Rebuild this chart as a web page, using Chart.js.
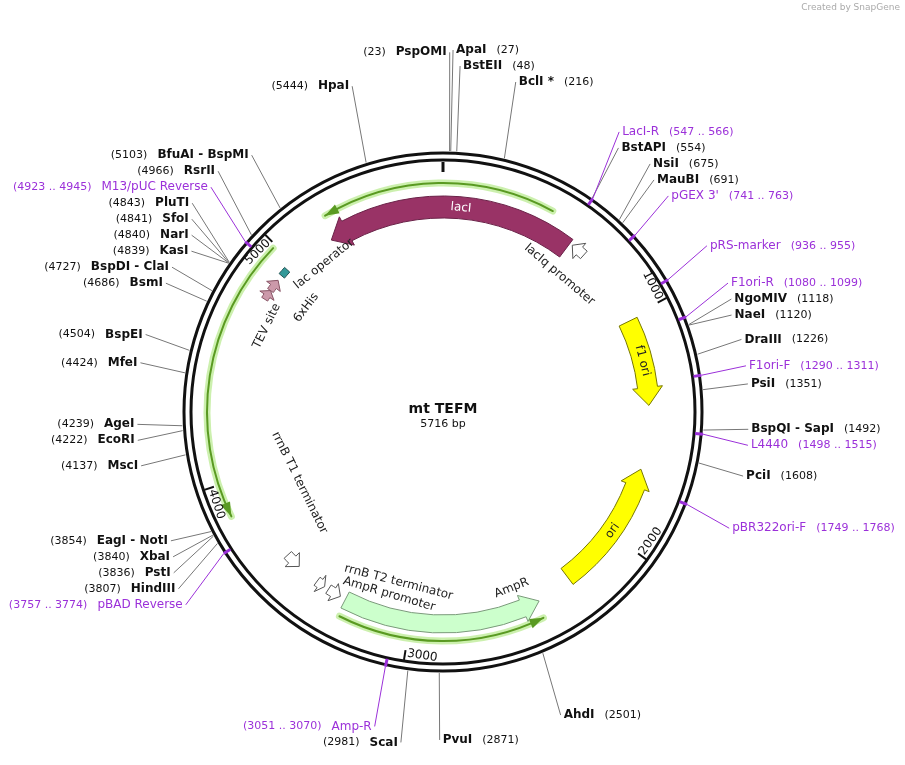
<!DOCTYPE html>
<html><head><meta charset="utf-8">
<script src="https://cdn.jsdelivr.net/npm/chart.js@4.4.0/dist/chart.umd.min.js"></script>
<style>html,body{margin:0;background:#fff}canvas{display:block}</style>
</head><body>
<canvas id="map" width="905" height="765"></canvas>
<script>
const TOTAL = 5716;
const plasmidName = "mt TEFM";

// restriction sites: name, position
const siteNames = ["PspOMI","ApaI","BstEII","BclI *","BstAPI","NsiI","MauBI","NgoMIV","NaeI","DraIII","PsiI","BspQI - SapI","PciI","AhdI","PvuI","ScaI","HindIII","PstI","XbaI","EagI - NotI","MscI","EcoRI","AgeI","MfeI","BspEI","BsmI","BspDI - ClaI","KasI","NarI","SfoI","PluTI","RsrII","BfuAI - BspMI","HpaI"];
const sitePos = [23,27,48,216,554,675,691,1118,1120,1226,1351,1492,1608,2501,2871,2981,3807,3836,3840,3854,4137,4222,4239,4424,4504,4686,4727,4839,4840,4841,4843,4966,5103,5444];

// primers: name, start, end
const primerNames = ["LacI-R","pGEX 3'","pRS-marker","F1ori-R","F1ori-F","L4440","pBR322ori-F","Amp-R","pBAD Reverse","M13/pUC Reverse"];
const primerStart = [547,741,936,1080,1290,1498,1749,3051,3757,4923];
const primerEnd = [566,763,955,1099,1311,1515,1768,3070,3774,4945];

// features: start, end, direction (1 = clockwise, -1 = counter)
const featNames = ["lacI","f1 ori","ori","AmpR","lacIq promoter","AmpR promoter","rrnB T2 terminator","rrnB T1 terminator","lac operator","6xHis","TEV site"];
const featStart = [5192,1016,1685,2430,600,3320,3400,3540,4925,4845,4800];
const featEnd = [587,1400,2270,3295,665,3380,3440,3610,4960,4900,4845];
const featDir = [-1,1,-1,-1,-1,-1,-1,-1,0,1,1];

// translated ORF arrows (thin green lines): start, end
const orfStart = [5224,3870,2445];
const orfEnd = [455,4985,3285];

const tickValues = [1000,2000,3000,4000,5000];

const ang = bp => bp / TOTAL * 2 * Math.PI;

const mapPlugin = {
  id: "plasmid",
  afterDraw(chart) {
    const ctx = chart.ctx, xs = chart.scales.x, ys = chart.scales.y;
    const cx = xs.getPixelForValue(0), cy = ys.getPixelForValue(0);
    const P = (bp, r) => { const t = ang(bp); return [xs.getPixelForValue(r * Math.sin(t)), ys.getPixelForValue(r * Math.cos(t))]; };
    const ca = bp => ang(bp) - Math.PI / 2;
    const span = (s, e) => ((e - s) % TOTAL + TOTAL) % TOTAL;

    function arrow(s, e, dir, r, w, fill, stroke) {
      const len = span(s, e);
      const head = Math.min(len * 0.6, 18 / r / (2 * Math.PI) * TOTAL);
      ctx.beginPath();
      if (dir === 1) {
        const b = s + len - head;
        ctx.arc(cx, cy, r + w / 2, ca(s), ca(b));
        ctx.lineTo(...P(b, r + w / 2 + 5)); ctx.lineTo(...P(e, r)); ctx.lineTo(...P(b, r - w / 2 - 5));
        ctx.arc(cx, cy, r - w / 2, ca(b), ca(s), true);
      } else if (dir === -1) {
        const b = s + head;
        ctx.moveTo(...P(s, r));
        ctx.lineTo(...P(b, r + w / 2 + 5));
        ctx.arc(cx, cy, r + w / 2, ca(b), ca(e));
        ctx.arc(cx, cy, r - w / 2, ca(e), ca(b), true);
        ctx.lineTo(...P(b, r - w / 2 - 5));
      } else {
        ctx.arc(cx, cy, r + w / 2, ca(s), ca(e));
        ctx.arc(cx, cy, r - w / 2, ca(e), ca(s), true);
      }
      ctx.closePath();
      ctx.fillStyle = fill; ctx.fill();
      ctx.strokeStyle = stroke; ctx.lineWidth = 1; ctx.stroke();
    }

    function thinArrow(s, e, r) {
      const len = span(s, e);
      ctx.lineCap = "round";
      ctx.strokeStyle = "rgba(170,230,120,0.6)"; ctx.lineWidth = 7;
      ctx.beginPath(); ctx.arc(cx, cy, r, ca(s), ca(s) + ang(len)); ctx.stroke();
      ctx.strokeStyle = "#5a9a22"; ctx.lineWidth = 2;
      ctx.beginPath(); ctx.arc(cx, cy, r, ca(s), ca(s) + ang(len)); ctx.stroke();
      ctx.lineCap = "butt";
    }

    for (let i = 0; i < orfStart.length; i++) {
      const r = i === 1 ? 236 : 229;
      thinArrow(orfStart[i], orfEnd[i], r);
      const tipBp = orfStart[i], back = tipBp + 14 / 230 / (2 * Math.PI) * TOTAL;
      ctx.fillStyle = "#5a9a22"; ctx.beginPath();
      ctx.moveTo(...P(tipBp, r)); ctx.lineTo(...P(back, r + 5)); ctx.lineTo(...P(back, r - 5)); ctx.closePath(); ctx.fill();
    }

    // backbone
    ctx.strokeStyle = "#111"; ctx.lineWidth = 3;
    ctx.beginPath(); ctx.arc(cx, cy, 259, 0, 2 * Math.PI); ctx.stroke();
    ctx.beginPath(); ctx.arc(cx, cy, 252, 0, 2 * Math.PI); ctx.stroke();
    ctx.beginPath(); ctx.moveTo(...P(0, 250)); ctx.lineTo(...P(0, 240)); ctx.stroke();

    // ticks
    ctx.font = "12px 'DejaVu Sans'"; ctx.fillStyle = "#111";
    tickValues.forEach(v => {
      ctx.lineWidth = 2; ctx.beginPath(); ctx.moveTo(...P(v, 251)); ctx.lineTo(...P(v, 241)); ctx.stroke();
      const [x, y] = P(v - 8, 244); const t = ang(v);
      const bottom = t > Math.PI / 2 && t < 3 * Math.PI / 2;
      ctx.save(); ctx.translate(x, y);
      ctx.rotate(bottom ? t - Math.PI : t);
      ctx.textAlign = bottom ? "left" : "right"; ctx.textBaseline = "middle";
      ctx.fillText(String(v), 0, 0); ctx.restore();
    });

    // features
    const featStyle = {
      "lacI": [205, 22, "#993366", "#6a2248"], "f1 ori": [206, 20, "#ffff00", "#777700"],
      "ori": [206, 20, "#ffff00", "#777700"], "AmpR": [212, 18, "#ccffcc", "#7a9a7a"],
      "lac operator": [211, 7, "#339999", "#225555"], "6xHis": [211, 7, "#cc99aa", "#885566"], "TEV site": [211, 7, "#cc99aa", "#885566"]
    };
    featNames.forEach((n, i) => {
      const st = featStyle[n] || [211, 10, "#ffffff", "#555"];
      arrow(featStart[i], featEnd[i], featDir[i], st[0], st[1], st[2], st[3]);
    });

    const featLabel = [["lacI", 80, 205, "#fff"], ["f1 ori", 1200, 206, "#222"], ["ori", 1985, 207, "#222"],
      ["AmpR", 2520, 189, "#222"], ["lacIq promoter", 640, 180, "#222"], ["AmpR promoter", 3120, 190, "#222"],
      ["rrnB T2 terminator", 3090, 176, "#222"], ["rrnB T1 terminator", 3870, 160, "#222"],
      ["lac operator", 5100, 190, "#222"], ["6xHis", 4880, 172, "#222"], ["TEV site", 4700, 196, "#222"]];
    ctx.font = "12px 'DejaVu Sans'";
    featLabel.forEach(([txt, bp, r, col]) => {
      const [x, y] = P(bp, r); const t = ang(bp);
      let rot = t; if (t > Math.PI / 2 && t < 3 * Math.PI / 2) rot -= Math.PI;
      ctx.save(); ctx.translate(x, y); ctx.rotate(rot);
      ctx.fillStyle = col; ctx.textAlign = "center"; ctx.textBaseline = "middle";
      ctx.fillText(txt, 0, 0); ctx.restore();
    });

    // labels outside
    const labels = [];
    siteNames.forEach((n, i) => labels.push({ name: n, pos: sitePos[i], num: "(" + sitePos[i] + ")", primer: false }));
    primerNames.forEach((n, i) => labels.push({ name: n, pos: (primerStart[i] + primerEnd[i]) / 2, key: primerStart[i], num: "(" + primerStart[i] + " .. " + primerEnd[i] + ")", primer: true }));
    labels.forEach(l => {
      const t = ang(l.pos);
      l.side = (l.pos < 25 || l.pos > 2900) ? -1 : 1;
      const c = Math.max(0, Math.cos(t));
      const Ry = 328 + 32 * Math.pow(c, 20);
      l.y = cy - Ry * Math.cos(t);
      l.x = cx + 305 * Math.sin(t) + l.side * 4;
      l.k = l.key !== undefined ? l.key : l.pos;
      if (l.side === -1 && l.k < 25) l.k += TOTAL;
    });
    const gap = 16;
    [1, -1].forEach(side => {
      const grp = labels.filter(l => l.side === side).sort((a, b) => side * (a.k - b.k));
      for (let it = 0; it < 300; it++) {
        for (let i = 1; i < grp.length; i++) {
          const d = grp[i].y - grp[i - 1].y;
          if (d < gap) { const m = (gap - d) / 2; grp[i].y += m; grp[i - 1].y -= m; }
        }
        grp.forEach(l => { l.y = Math.min(Math.max(l.y, 50), 750); });
      }
    });
    labels.forEach(l => {
      const col = l.primer ? "#9b30d9" : "#777";
      const [x0, y0] = P(l.pos, 261);
      ctx.strokeStyle = col; ctx.lineWidth = 1;
      ctx.beginPath(); ctx.moveTo(x0, y0); ctx.lineTo(l.x - l.side * 3, l.y); ctx.stroke();
      if (l.primer) {
        ctx.strokeStyle = "#9b30d9"; ctx.lineWidth = 3;
        ctx.beginPath(); ctx.moveTo(...P(l.pos, 253)); ctx.lineTo(...P(l.pos, 261)); ctx.stroke();
      }
      const nameFont = l.primer ? "12px 'DejaVu Sans'" : "bold 12px 'DejaVu Sans'";
      const numFont = "11px 'DejaVu Sans'";
      ctx.textBaseline = "middle"; ctx.textAlign = "left";
      ctx.font = nameFont; const wn = ctx.measureText(l.name).width;
      ctx.font = numFont; const wm = ctx.measureText(l.num).width;
      let xn, xm;
      if (l.side === 1) { xn = l.x; xm = l.x + wn + 10; }
      else { xn = l.x - wn; xm = xn - 10 - wm; }
      ctx.fillStyle = l.primer ? "#9b30d9" : "#111";
      ctx.font = nameFont; ctx.fillText(l.name, xn, l.y);
      ctx.font = numFont; ctx.fillText(l.num, xm, l.y);
    });

    // center text
    ctx.fillStyle = "#111"; ctx.textAlign = "center";
    ctx.font = "bold 14px 'DejaVu Sans'"; ctx.fillText(plasmidName, cx, cy - 3);
    ctx.font = "11px 'DejaVu Sans'"; ctx.fillText(TOTAL + " bp", cx, cy + 12);
    ctx.font = "9px 'DejaVu Sans'"; ctx.fillStyle = "#aaa"; ctx.textAlign = "right";
    ctx.fillText("Created by SnapGene", 900, 8);
  }
};

new Chart(document.getElementById("map"), {
  type: "scatter",
  data: { datasets: [{ data: sitePos.map(p => ({ x: 255 * Math.sin(ang(p)), y: 255 * Math.cos(ang(p)) })), pointRadius: 0 }] },
  options: {
    responsive: false, animation: false,
    layout: { padding: 0 },
    plugins: { legend: { display: false }, tooltip: { enabled: false } },
    scales: {
      x: { type: "linear", min: -443, max: 462, display: false },
      y: { type: "linear", min: -353, max: 412, display: false }
    }
  },
  plugins: [mapPlugin]
});
</script>
</body></html>
